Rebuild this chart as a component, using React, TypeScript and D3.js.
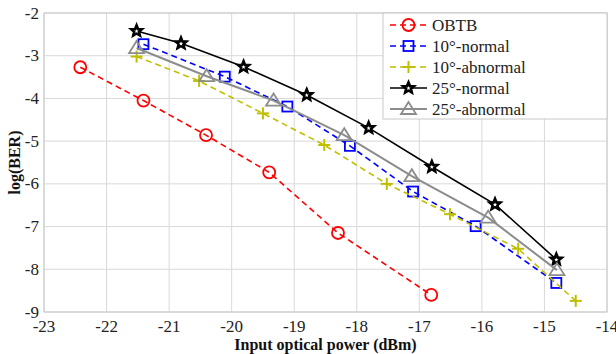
import React from "react";
import * as d3 from "d3";

const xTicks = [-23, -22, -21, -20, -19, -18, -17, -16, -15, -14];
const yTicks = [-2, -3, -4, -5, -6, -7, -8, -9];

const obtbX = [-22.42, -21.41, -20.41, -19.4, -18.3, -16.81];
const obtbY = [-3.27, -4.05, -4.86, -5.73, -7.15, -8.6];

const n10X = [-21.41, -20.11, -19.11, -18.11, -17.1, -16.1, -14.81];
const n10Y = [-2.73, -3.49, -4.19, -5.11, -6.18, -6.99, -8.32];

const a10X = [-21.52, -20.52, -19.5, -18.52, -17.52, -16.51, -15.42, -14.5];
const a10Y = [-3.02, -3.59, -4.35, -5.09, -6.0, -6.71, -7.52, -8.74];

const n25X = [-21.52, -20.81, -19.81, -18.8, -17.81, -16.8, -15.79, -14.81];
const n25Y = [-2.42, -2.71, -3.26, -3.92, -4.69, -5.6, -6.48, -7.77];

const a25X = [-21.52, -20.4, -19.33, -18.2, -17.12, -15.9, -14.8];
const a25Y = [-2.82, -3.48, -4.05, -4.86, -5.82, -6.79, -8.02];

type Series = {
  name: string;
  xs: number[];
  ys: number[];
  color: string;
  dash: string | undefined;
  width: number;
  marker: "circle" | "square" | "plus" | "star" | "triangle";
};

const series: Series[] = [
  { name: "OBTB", xs: obtbX, ys: obtbY, color: "#ff0000", dash: "6,4", width: 1.6, marker: "circle" },
  { name: "10°-normal", xs: n10X, ys: n10Y, color: "#0000ff", dash: "6,4", width: 1.6, marker: "square" },
  { name: "10°-abnormal", xs: a10X, ys: a10Y, color: "#bfbf00", dash: "6,4", width: 1.6, marker: "plus" },
  { name: "25°-normal", xs: n25X, ys: n25Y, color: "#000000", dash: undefined, width: 1.6, marker: "star" },
  { name: "25°-abnormal", xs: a25X, ys: a25Y, color: "#8c8c8c", dash: undefined, width: 2, marker: "triangle" },
];

const W = 616, H = 354;
const L = 44, R = 607, T = 13, B = 312;

function starPath(cx: number, cy: number, ro: number, ri: number) {
  const pts: string[] = [];
  for (let i = 0; i < 10; i++) {
    const r = i % 2 === 0 ? ro : ri;
    const a = -Math.PI / 2 + (i * Math.PI) / 5;
    pts.push(`${cx + r * Math.cos(a)},${cy + r * Math.sin(a)}`);
  }
  return "M" + pts.join("L") + "Z";
}

function Marker({ kind, x, y, color }: { kind: Series["marker"]; x: number; y: number; color: string }) {
  switch (kind) {
    case "circle":
      return <circle cx={x} cy={y} r={6} fill="none" stroke={color} strokeWidth={1.8} />;
    case "square":
      return <rect x={x - 5} y={y - 5} width={10} height={10} fill="none" stroke={color} strokeWidth={1.8} />;
    case "plus":
      return (
        <g stroke={color} strokeWidth={2}>
          <line x1={x - 6} y1={y} x2={x + 6} y2={y} />
          <line x1={x} y1={y - 6} x2={x} y2={y + 6} />
        </g>
      );
    case "star":
      return (
        <g>
          <path d={starPath(x, y, 7.5, 3.3)} fill={color} stroke={color} strokeWidth={1.2} strokeLinejoin="miter" />
          <path d={starPath(x, y + 0.3, 2.2, 1)} fill="#fff" />
        </g>
      );
    case "triangle":
      return (
        <path
          d={`M${x},${y - 7}L${x + 7.5},${y + 5}L${x - 7.5},${y + 5}Z`}
          fill="none"
          stroke={color}
          strokeWidth={1.8}
        />
      );
  }
}

export default function App() {
  const x = d3.scaleLinear().domain([-23, -14]).range([L, R]);
  const y = d3.scaleLinear().domain([-2, -9]).range([T, B]);
  const line = d3
    .line<[number, number]>()
    .x((d) => x(d[0]))
    .y((d) => y(d[1]));

  const legX = 383, legY = 13, legW = R - 383, legH = 106;
  const rowH = 21;

  return (
    <svg width={W} height={H} style={{ position: "absolute", left: 0, top: 0, background: "#fff" }}>
      <rect x={0} y={0} width={W} height={H} fill="#fff" />
      {xTicks.map((t) => (
        <line key={"gx" + t} x1={x(t)} x2={x(t)} y1={T} y2={B} stroke="#d9d9d9" strokeWidth={1} />
      ))}
      {yTicks.map((t) => (
        <line key={"gy" + t} x1={L} x2={R} y1={y(t)} y2={y(t)} stroke="#d9d9d9" strokeWidth={1} />
      ))}
      <rect x={L} y={T} width={R - L} height={B - T} fill="none" stroke="#c8c8c8" strokeWidth={1} />

      {series.map((s) => {
        const pts = s.xs.map((v, i) => [v, s.ys[i]] as [number, number]);
        return (
          <g key={s.name}>
            <path d={line(pts) || ""} fill="none" stroke={s.color} strokeWidth={s.width} strokeDasharray={s.dash} />
            {pts.map((p, i) => (
              <Marker key={i} kind={s.marker} x={x(p[0])} y={y(p[1])} color={s.color} />
            ))}
          </g>
        );
      })}

      {yTicks.map((t) => (
        <text
          key={"ty" + t}
          x={39}
          y={y(t)}
          textAnchor="end"
          dominantBaseline="central"
          fontFamily="'Liberation Serif', 'Times New Roman', serif"
          fontSize={17}
          fill="#222"
        >
          {t}
        </text>
      ))}
      {xTicks.map((t) => (
        <text
          key={"tx" + t}
          x={x(t)}
          y={326}
          textAnchor="middle"
          dominantBaseline="central"
          fontFamily="'Liberation Serif', 'Times New Roman', serif"
          fontSize={17}
          fill="#222"
        >
          {t}
        </text>
      ))}
      <text
        x={(L + R) / 2}
        y={344}
        textAnchor="middle"
        dominantBaseline="central"
        fontFamily="'Liberation Serif', 'Times New Roman', serif"
        fontWeight="bold"
        fontSize={16}
        fill="#111"
      >
        Input optical power (dBm)
      </text>
      <text
        transform={`translate(14,${(T + B) / 2}) rotate(-90)`}
        textAnchor="middle"
        dominantBaseline="central"
        fontFamily="'Liberation Serif', 'Times New Roman', serif"
        fontWeight="bold"
        fontSize={16}
        fill="#111"
      >
        log(BER)
      </text>

      <rect x={legX} y={legY} width={legW} height={legH} fill="#fff" stroke="#c8c8c8" strokeWidth={1} />
      {series.map((s, i) => {
        const cy = legY + 12 + i * rowH;
        return (
          <g key={"lg" + s.name}>
            <line x1={390} x2={427} y1={cy} y2={cy} stroke={s.color} strokeWidth={s.width} strokeDasharray={s.dash} />
            <Marker kind={s.marker} x={408.5} y={cy} color={s.color} />
            <text
              x={432}
              y={cy}
              dominantBaseline="central"
              fontFamily="'Liberation Serif', 'Times New Roman', serif"
              fontSize={17}
              fill="#222"
            >
              {s.name}
            </text>
          </g>
        );
      })}
    </svg>
  );
}
